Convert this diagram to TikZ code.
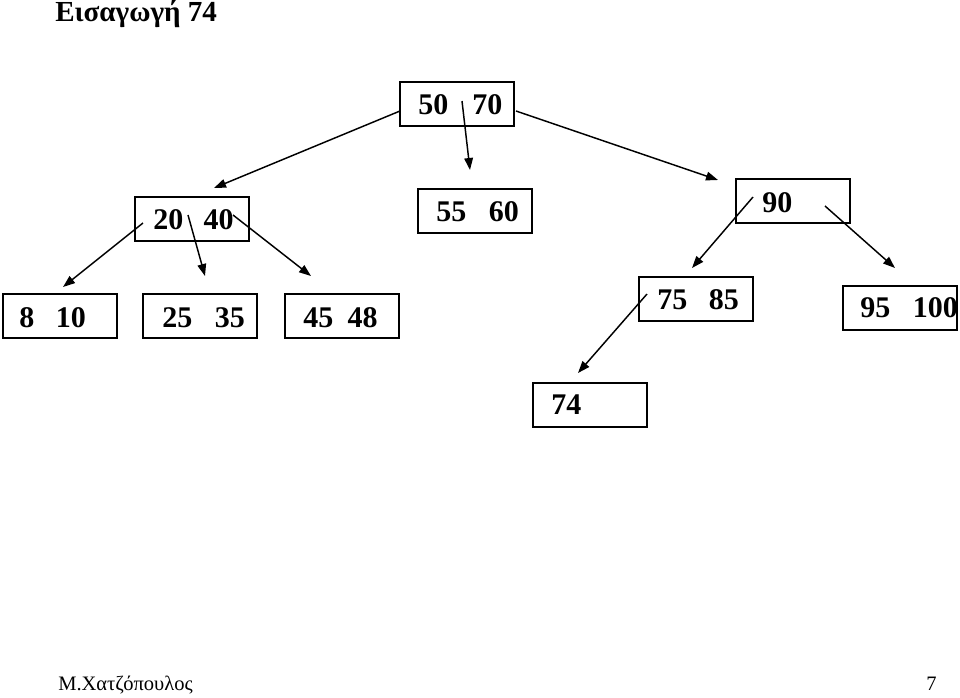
\documentclass[tikz,border=0pt]{standalone}
\usepackage{fontspec}
\setmainfont{Liberation Serif}
\usetikzlibrary{arrows.meta}
\begin{document}
\begin{tikzpicture}[x=0.75pt,y=-0.75pt,
  box/.style={draw, line width=1.5pt, minimum width=85.5pt, minimum height=33pt, inner sep=0pt},
  num/.style={inner sep=0pt, anchor=west, font=\fontsize{22.5}{26}\selectfont\bfseries},
  arr/.style={line width=1.1pt, -{Triangle[length=9pt,width=6.5pt]}},
  title/.style={inner sep=0pt, anchor=base west, font=\fontsize{21.8}{26}\selectfont\bfseries},
  foot/.style={inner sep=0pt, font=\fontsize{15.4}{18}\selectfont}]
\useasboundingbox (0,0) rectangle (960,697);

% title and footer
\node[title] (ttl) at (55,21) {Εισαγωγή 74};
\node[foot, anchor=base west] (auth) at (58,690) {Μ.Χατζόπουλος};
\node[foot, anchor=base east] (pg) at (937,690) {7};

% boxes
\node[box] (r)  at (457,104) {};
\node[box] (a)  at (191.5,219) {};
\node[box] (b)  at (474.5,210.5) {};
\node[box] (c)  at (793,201) {};
\node[box] (l1) at (59.5,316) {};
\node[box] (l2) at (200,316) {};
\node[box] (l3) at (342,316) {};
\node[box] (l4) at (696,299) {};
\node[box] (l5) at (899.5,307.5) {};
\node[box] (l6) at (590,405) {};

% keys
\node[num] (tr)  at (418,105) {50\hspace{0.8em}70};
\node[num] (ta)  at (153,220) {20\hspace{0.68em}40};
\node[num] (tb)  at (436,212) {55\hspace{0.75em}60};
\node[num] (tc)  at (762,203) {90};
\node[num] (t1)  at (19,318)  {8\hspace{0.72em}10};
\node[num] (t2)  at (162,318) {25\hspace{0.75em}35};
\node[num] (t3)  at (303,318) {45\hspace{0.48em}48};
\node[num] (t4)  at (657,300) {75\hspace{0.72em}85};
\node[num] (t5)  at (860,308) {95\hspace{0.75em}100};
\node[num] (t6)  at (551,405) {74};

% arrow start points (inside boxes) and tips
\coordinate (r-s1) at (400,111);
\coordinate (r-s2) at (462,101);
\coordinate (r-s3) at (516,111);
\coordinate (a-in) at (214,188);
\coordinate (b-in) at (470,170);
\coordinate (c-in) at (718,180);
\coordinate (a-s1) at (143,223);
\coordinate (a-s2) at (188,215);
\coordinate (a-s3) at (233,215);
\coordinate (l1-in) at (63,287);
\coordinate (l2-in) at (205,276);
\coordinate (l3-in) at (311,276);
\coordinate (c-s1) at (753,197);
\coordinate (c-s2) at (825,206);
\coordinate (l4-in) at (692,268);
\coordinate (l5-in) at (895,268);
\coordinate (l4-s1) at (647,294);
\coordinate (l6-in) at (578,373);

\draw[arr] (r-s1) -- (a-in);
\draw[arr] (r-s2) -- (b-in);
\draw[arr] (r-s3) -- (c-in);
\draw[arr] (a-s1) -- (l1-in);
\draw[arr] (a-s2) -- (l2-in);
\draw[arr] (a-s3) -- (l3-in);
\draw[arr] (c-s1) -- (l4-in);
\draw[arr] (c-s2) -- (l5-in);
\draw[arr] (l4-s1) -- (l6-in);
\end{tikzpicture}
\end{document}
